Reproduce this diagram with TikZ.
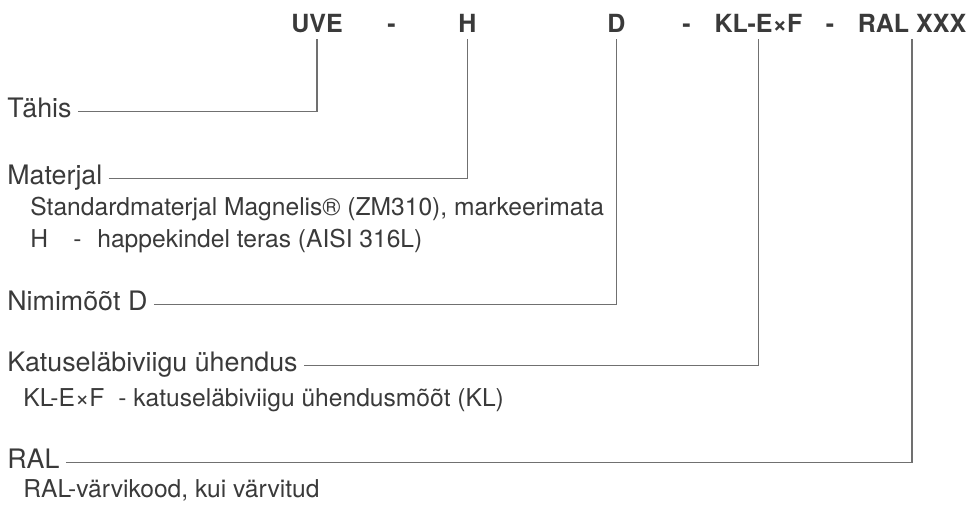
\documentclass[tikz,border=0pt]{standalone}
\usepackage{fontspec}
\setmainfont{TeX Gyre Heros}
\usepackage{xcolor}
\definecolor{txtgray}{HTML}{3A3A3A}
\definecolor{linegray}{HTML}{707070}

\begin{document}
\begin{tikzpicture}[x=0.5pt, y=-0.5pt,
    head/.style={anchor=base, inner sep=0pt, font=\fontsize{12.5}{15}\selectfont\bfseries, text=txtgray},
    lbl/.style={anchor=base west, inner xsep=3pt, inner ysep=0pt, font=\fontsize{13.4}{16}\selectfont, text=txtgray},
    sub/.style={anchor=base west, inner sep=0pt, font=\fontsize{12.3}{15}\selectfont, text=txtgray},
    conn/.style={draw=linegray, line width=0.65pt}]

    \useasboundingbox (0,0) rectangle (967,510);

    % Type code on top
    \node[head] (uve) at (317,32) {UVE};
    \node[head] (dasha) at (391.5,32) {-};
    \node[head] (h) at (467.5,32) {H};
    \node[head] (d) at (616.5,32) {D};
    \node[head] (dashb) at (686.5,32) {-};
    \node[head] (klexf) at (758.5,32) {KL-E×F};
    \node[head] (dashc) at (830,32) {-};
    \node[head] (ral) at (912,32) {RAL XXX};

    \coordinate (uvetop) at ([yshift=-3.5pt]uve.base);
    \coordinate (htop) at ([yshift=-3.5pt]h.base);
    \coordinate (dtop) at ([yshift=-3.5pt]d.base);
    \coordinate (klexftop) at ([yshift=-3.5pt]klexf.base);
    \coordinate (raltop) at ([yshift=-3.5pt]ral.base);

    % Labels and leader lines
    \node[lbl] (tahis) at (1,117) {Tähis};
    \draw[conn] (tahis.mid east) -| (uvetop);

    \node[lbl] (materjal) at (1,184) {Materjal};
    \draw[conn] (materjal.mid east) -| (htop);
    \node[sub] (standard) at (30,215) {Standardmaterjal Magnelis® (ZM310), markeerimata};
    \node[sub] (happe) at (30,247) {\makebox[21.5pt][l]{H}\makebox[12pt][l]{-}happekindel teras (AISI 316L)};

    \node[lbl] (nimi) at (1,310) {Nimimõõt D};
    \draw[conn] (nimi.mid east) -| (dtop);

    \node[lbl] (katus) at (1,371) {Katuseläbiviigu ühendus};
    \draw[conn] (katus.mid east) -| (klexftop);
    \node[sub] (klmoot) at (23,406) {\makebox[47.5pt][l]{KL-E×F}\makebox[7.5pt][l]{-}katuseläbiviigu ühendusmõõt (KL)};

    \node[lbl] (rallbl) at (1,468) {RAL};
    \draw[conn] (rallbl.mid east) -| (raltop);
    \node[sub] (ralkood) at (23,497) {RAL-värvikood, kui värvitud};

\end{tikzpicture}
\end{document}
